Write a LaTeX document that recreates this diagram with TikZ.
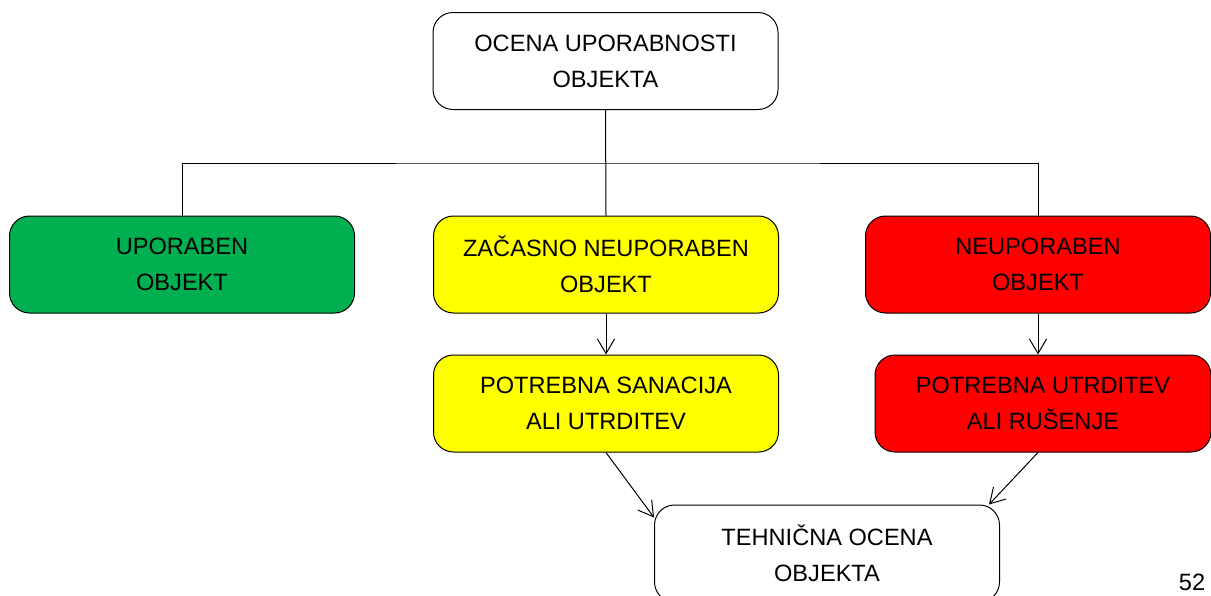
\documentclass[tikz,border=0pt]{standalone}
\usepackage{fontspec}
\setmainfont{Liberation Sans}
\usetikzlibrary{arrows.meta}
\definecolor{okgreen}{RGB}{0,176,80}
\definecolor{warnyellow}{RGB}{255,255,0}
\definecolor{badred}{RGB}{255,0,0}
\tikzset{every picture/.style={line width=0.75pt}}
\tikzset{
  box/.style={draw, rounded corners=15pt, align=center, minimum width=258.75pt, minimum height=72.75pt, inner sep=0pt, font=\fontsize{17.7}{27}\selectfont},
  link/.style={-{Straight Barb[length=11pt,width=13pt]}}
}
\begin{document}
\begin{tikzpicture}[x=0.75pt,y=0.75pt,yscale=-1,xscale=1]
	\useasboundingbox (0,0) rectangle (1211,596);
	\clip (0,0) rectangle (1211,596);

	%Rounded Rect [id:top]
	\node (ocena) at (605.5,61) [box] {OCENA UPORABNOSTI\\OBJEKTA};
	%Rounded Rect [id:green]
	\node (uporaben) at (182,264.5) [box, fill=okgreen] {UPORABEN\\OBJEKT};
	%Rounded Rect [id:yellow]
	\node (zacasno) at (606,264.5) [box, fill=warnyellow] {ZAČASNO NEUPORABEN\\OBJEKT};
	%Rounded Rect [id:red]
	\node (neuporaben) at (1038,264.5) [box, fill=badred] {NEUPORABEN\\OBJEKT};
	%Rounded Rect [id:yellow2]
	\node (sanacija) at (606,403.5) [box, fill=warnyellow] {POTREBNA SANACIJA\\ALI UTRDITEV};
	%Rounded Rect [id:red2]
	\node (rusenje) at (1043,403.5) [box, fill=badred, minimum width=252pt] {POTREBNA UTRDITEV\\ALI RUŠENJE};
	%Rounded Rect [id:bottom]
	\node (tehnicna) at (827,553.5) [box] {TEHNIČNA OCENA\\OBJEKTA};

	%Straight Lines [id:bus]
	\coordinate (bus) at (605.5,163);
	\draw (ocena.south) -- (zacasno.north);
	\draw (uporaben.north) |- (bus) -| (neuporaben.north);
	%Arrows
	\draw [link] (zacasno.south) -- (sanacija.north);
	\draw [link] (neuporaben.south) -- (neuporaben.south |- rusenje.north);
	\draw [link] (sanacija.south) -- ([yshift=9.75pt]tehnicna.north west);
	\draw [link] (neuporaben.south |- rusenje.south) -- ([xshift=-8.25pt]tehnicna.north east);

	% Text Node
	\node (page) at (1192,590) [anchor=base, inner sep=0pt, font=\fontsize{17.7}{27}\selectfont] {52};

\end{tikzpicture}
\end{document}
